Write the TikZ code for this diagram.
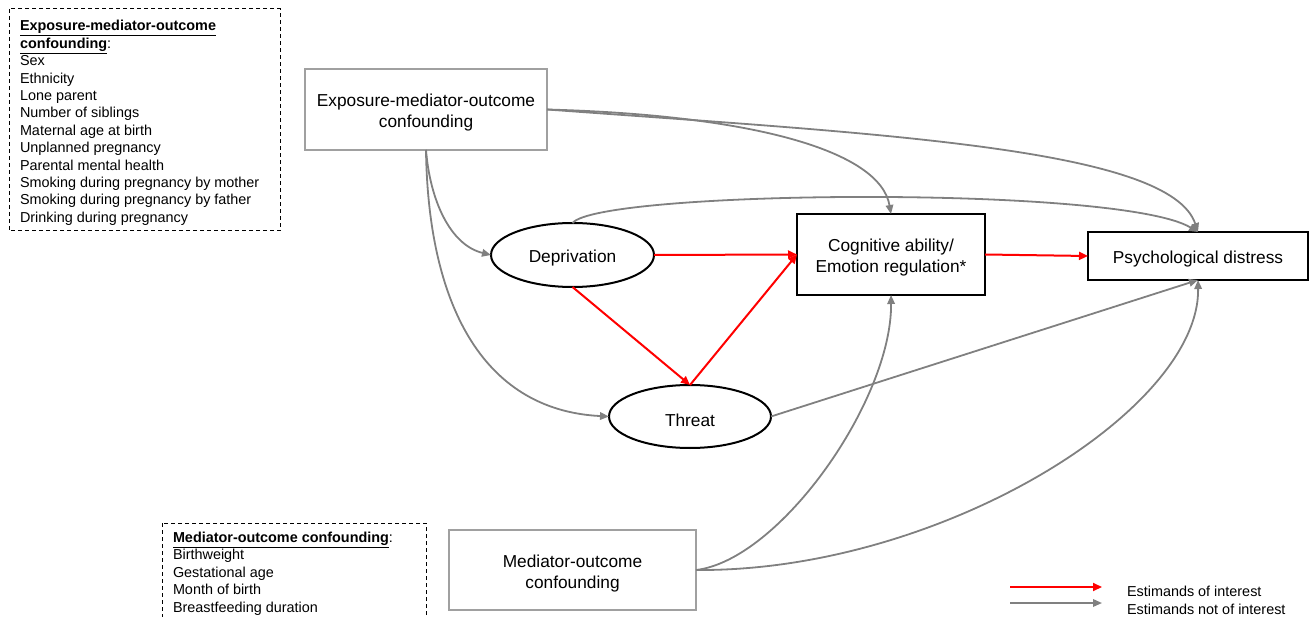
\documentclass[tikz,border=0pt]{standalone}
\usepackage{fontspec}
\setmainfont{Liberation Sans}
\usetikzlibrary{arrows.meta,shapes.geometric}
\definecolor{edgegray}{RGB}{128,128,128}
\definecolor{boxgray}{RGB}{160,160,160}
\definecolor{estred}{RGB}{255,0,0}
\begin{document}
\begin{tikzpicture}[x=1pt,y=-1pt,
  every node/.style={inner sep=0pt, outer sep=0pt},
  big/.style={font=\fontsize{17.3}{21}\selectfont, align=center},
  small/.style={font=\fontsize{14.4}{17.4}\selectfont, align=left},
  txt/.style={label={[big, yshift=-3.5pt]center:{#1}}},
  confbox/.style={draw=boxgray, line width=2pt, rectangle},
  mainbox/.style={draw=black, line width=2pt, rectangle},
  oval/.style={draw=black, line width=2pt, ellipse},
  grayarrow/.style={draw=edgegray, line width=1.8pt, -{Triangle[length=9pt,width=7.5pt]}},
  redarrow/.style={draw=estred, line width=2pt, -{Triangle[length=9pt,width=8pt]}},
  listbox/.style={draw=black, line width=1pt, dash pattern=on 4pt off 3pt}
]
\useasboundingbox (0,0) rectangle (1311,617);
\clip (0,0) rectangle (1311,617);

% dashed lists
\draw[listbox] (9,9) rectangle (280,231);
\node[small, anchor=north west] (conf1) at (20,20.5)
  {\underline{\textbf{Exposure-mediator-outcome}}\\
   \underline{\textbf{confounding}}:\\
   Sex\\Ethnicity\\Lone parent\\Number of siblings\\Maternal age at birth\\
   Unplanned pregnancy\\Parental mental health\\Smoking during pregnancy by mother\\
   Smoking during pregnancy by father\\Drinking during pregnancy};
\draw[listbox] (162,523) rectangle (426,640);
\node[small, anchor=north west] (conf2) at (173,532)
  {\underline{\textbf{Mediator-outcome confounding}}:\\
   Birthweight\\Gestational age\\Month of birth\\Breastfeeding duration};

% main nodes
\node[confbox, minimum width=242pt, minimum height=81pt,
  txt={Exposure-mediator-outcome\\confounding}] (expo) at (426,109.5) {};
\node[confbox, minimum width=247pt, minimum height=80pt,
  txt={Mediator-outcome\\confounding}] (med) at (572.5,570) {};
\node[oval, minimum width=163pt, minimum height=64pt, txt={Deprivation}] (dep) at (572.5,255) {};
\node[oval, minimum width=162pt, minimum height=63pt, txt={Threat}] (threat) at (690,416.5) {};
\node[mainbox, minimum width=188pt, minimum height=81pt,
  txt={Cognitive ability/\\Emotion regulation*}] (cog) at (891,254.5) {};
\node[mainbox, minimum width=220pt, minimum height=48pt,
  txt={Psychological distress}] (psych) at (1198,256) {};

% gray edges
\draw[grayarrow] (expo.east) .. controls (880,134) and (1170,148) .. (psych.north);
\draw[grayarrow] (expo.east) .. controls (750,115) and (880,150) .. (cog.north);
\draw[grayarrow] (dep.north) .. controls (600,190) and (1120,185) .. (psych.north);
\draw[grayarrow] (expo.south) .. controls (430,200) and (450,245) .. (dep.west);
\draw[grayarrow] (expo.south) .. controls (428,300) and (480,410) .. (threat.west);
\draw[grayarrow] (threat.east) -- (psych.south);
\draw[grayarrow] (med.east) .. controls (780,560) and (892,400) .. (cog.south);
\draw[grayarrow] (med.east) .. controls (940,572) and (1200,410) .. (psych.south);

% red edges
\draw[redarrow] (dep.east) -- (cog.west);
\draw[redarrow] (dep.south) -- (threat.north);
\draw[redarrow] (threat.north) -- (cog.west);
\draw[redarrow] (cog.east) -- (psych.west);

% legend
\coordinate (leg1a) at (1010,587);
\coordinate (leg1b) at (1102,587);
\coordinate (leg2a) at (1010,603);
\coordinate (leg2b) at (1102,603);
\draw[redarrow] (leg1a) -- (leg1b);
\draw[grayarrow] (leg2a) -- (leg2b);
\node[small, anchor=base west] (legt1) at (1127,596) {Estimands of interest};
\node[small, anchor=base west] (legt2) at (1127,614) {Estimands not of interest};
\end{tikzpicture}
\end{document}
